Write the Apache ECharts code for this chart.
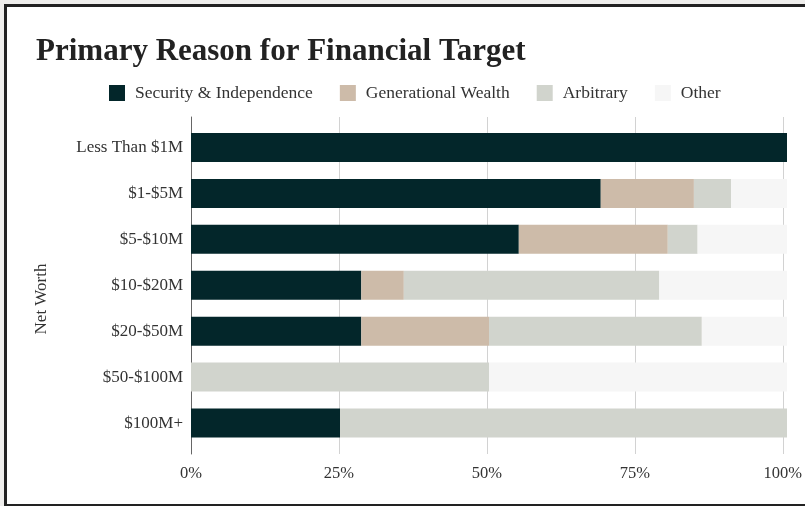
<!DOCTYPE html>
<html>
<head>
<meta charset="utf-8">
<title>Primary Reason for Financial Target</title>
<script src="https://cdn.jsdelivr.net/npm/echarts@6/dist/echarts.min.js"></script>
<style>
  html, body { margin: 0; padding: 0; width: 805px; height: 506px; overflow: hidden; background: #efeeec; }
  #frame { position: absolute; left: 4px; top: 4px; width: 840px; height: 497px; background: #ffffff; border: 3px solid #222222; }
  #chart { position: absolute; left: 0; top: 0; width: 805px; height: 506px; }
</style>
</head>
<body>
<div id="frame"></div>
<div id="chart"></div>
<script>
// Net worth brackets, top to bottom
const categories = ['Less Than $1M', '$1-$5M', '$5-$10M', '$10-$20M', '$20-$50M', '$50-$100M', '$100M+'];

// Share of respondents (%) per primary reason
const security     = [100, 68.75, 55, 28.57, 28.57, 0, 25];
const generational = [0, 15.63, 25, 7.14, 21.43, 0, 0];
const arbitrary    = [0, 6.25, 5, 42.86, 35.71, 50, 75];
const other        = [0, 9.37, 15, 21.43, 14.29, 50, 0];

const seriesNames = ['Security & Independence', 'Generational Wealth', 'Arbitrary', 'Other'];
const seriesColors = ['#03262a', '#cdbba9', '#d1d4cd', '#f6f6f6'];
const xTicks = [0, 25, 50, 75, 100];

const serif = '"Liberation Serif", "DejaVu Serif", serif';

const chart = echarts.init(document.getElementById('chart'), null, { renderer: 'canvas' });

const values = [security, generational, arbitrary, other];

chart.setOption({
  backgroundColor: 'transparent',
  animation: false,
  title: {
    text: 'Primary Reason for Financial Target',
    left: 31,
    top: 31,
    textStyle: { fontFamily: serif, fontWeight: 'bold', fontSize: 31, color: '#222222' }
  },
  legend: {
    data: seriesNames,
    left: 104,
    top: 79,
    itemWidth: 16,
    itemHeight: 16,
    itemGap: 27,
    icon: 'rect',
    textStyle: { fontFamily: serif, fontSize: 17.5, color: '#333333', padding: [0, 0, 0, 5] }
  },
  grid: [
    // frame grid: gridlines, percent labels and the category axis line
    { left: 191, top: 117, width: 596, height: 337 },
    // bar grid: category bands
    { left: 191, top: 124.5, width: 596, height: 321.5 }
  ],
  xAxis: [
    {
      gridIndex: 0, type: 'value', min: xTicks[0], max: xTicks[xTicks.length - 1], interval: 25,
      axisLine: { show: false }, axisTick: { show: false },
      splitLine: { show: true, lineStyle: { color: '#d2d2d2', width: 1 } },
      axisLabel: { formatter: '{value}%', fontFamily: serif, fontSize: 16.5, color: '#333333', margin: 11 }
    },
    {
      gridIndex: 1, type: 'value', min: 0, max: 100, show: false
    }
  ],
  yAxis: [
    {
      gridIndex: 0, type: 'value', min: 0, max: 1,
      axisLine: { show: true, lineStyle: { color: '#666666', width: 1 } },
      axisTick: { show: false }, axisLabel: { show: false }, splitLine: { show: false }
    },
    {
      gridIndex: 1, type: 'category', data: categories, inverse: true,
      axisLine: { show: false }, axisTick: { show: false },
      axisLabel: { fontFamily: serif, fontSize: 17, color: '#333333', margin: 8 }
    }
  ],
  graphic: [
    {
      type: 'text',
      x: 42, y: 299,
      rotation: Math.PI / 2,
      style: {
        text: 'Net Worth',
        fontFamily: serif, fontSize: 17, fill: '#333333',
        textAlign: 'center', textVerticalAlign: 'middle'
      }
    }
  ],
  series: seriesNames.map((name, i) => ({
    name: name,
    type: 'bar',
    stack: 'total',
    xAxisIndex: 1,
    yAxisIndex: 1,
    barWidth: 29,
    itemStyle: { color: seriesColors[i] },
    emphasis: { disabled: true },
    data: values[i]
  }))
});
</script>
</body>
</html>
